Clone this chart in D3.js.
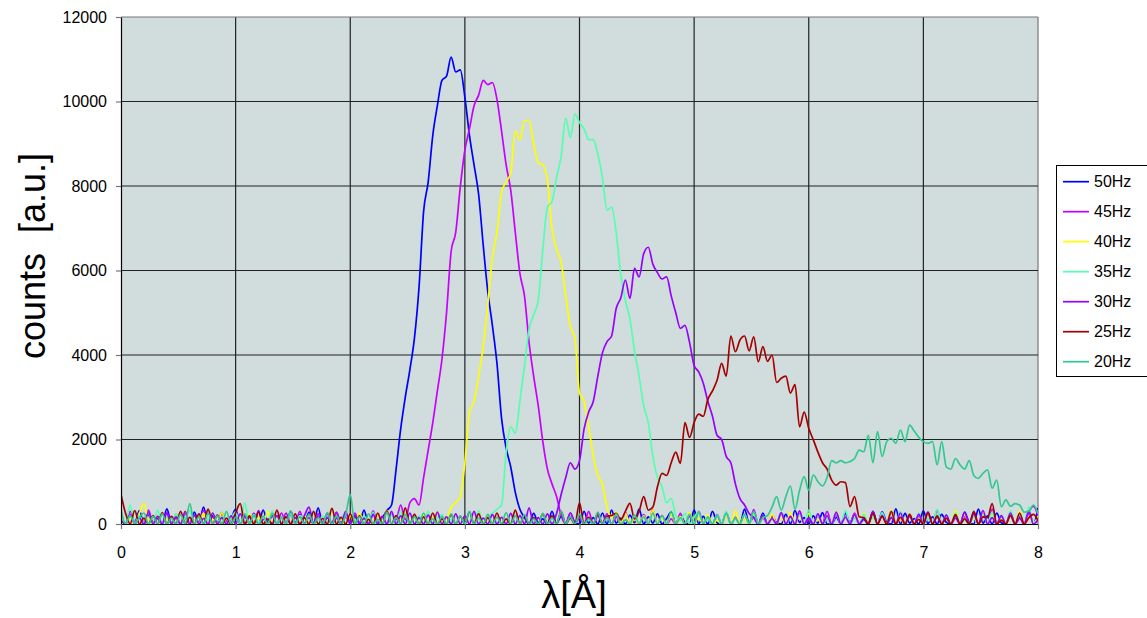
<!DOCTYPE html>
<html lang="en">
<head>
  <meta charset="UTF-8">
  <title>counts vs lambda</title>
  <script src="https://d3js.org/d3.v7.min.js"></script>
  <style>
    body {
      margin: 0;
      padding: 0;
      background: #fff;
    }
    text {
      font-family: "Liberation Sans", Arial, sans-serif;
    }
  </style>
</head>
<body>
  <div id="chart"></div>
<script>
  // one sample every 0.04 Å, from 0 to 8 (201 samples per series)
  const lambdaStep = 0.04
  const xTicks = [0, 1, 2, 3, 4, 5, 6, 7, 8]
  const yTicks = [0, 2000, 4000, 6000, 8000, 10000, 12000]
  const seriesNames = ['50Hz', '45Hz', '40Hz', '35Hz', '30Hz', '25Hz', '20Hz']
  const seriesColors = ['#0000ff', '#c800ff', '#ffff00', '#55ffb0', '#9900ff', '#a50000', '#33c890']

  const hz50 = [
    250,0,180,30,320,0,210,40,130,0,
    360,20,230,0,150,0,280,10,400,0,
    190,30,270,0,120,350,0,190,20,250,
    0,330,40,200,0,160,0,300,30,220,
    0,280,10,380,0,150,20,270,0,210,
    30,180,0,330,0,250,20,150,320,450,
    1300,2250,3000,3650,4400,5600,7400,8100,9200,9900,
    10500,10600,11050,10700,10750,10100,9200,8500,7800,6600,
    5500,4700,3800,2500,1800,1350,750,350,150,0,
    250,30,120,0,300,10,180,0,260,40,
    0,300,20,150,0,260,0,330,20,140,
    0,210,30,350,0,170,20,240,0,130,
    280,0,190,40,0,330,10,180,0,300,
    30,0,260,0,140,0,350,20,170,0,
    260,0,180,30,0,230,0,320,40,150,
    0,190,20,270,0,0,160,0,250,30,
    240,0,110,0,300,0,290,40,0,360,
    0,250,20,130,0,310,10,170,0,230,
    40,0,200,0,280,40,0,350,20,190,
    0,260,30,0,220,0,170,0,310,0,
    380]

  const hz45 = [
    120,0,300,40,190,0,330,10,160,0,
    270,20,140,0,250,0,180,30,320,0,
    160,0,210,60,0,280,0,170,30,240,
    0,110,0,190,0,260,20,220,0,300,
    10,150,0,240,30,160,0,280,20,170,
    0,260,40,150,0,310,20,180,0,230,
    100,450,100,500,600,450,1100,1750,2400,3150,
    3900,5000,6450,6900,7980,8850,9350,9900,10150,10500,
    10400,10450,10050,9300,8500,7900,6900,5930,5400,4300,
    3500,2800,1950,1300,950,650,200,0,260,0,
    150,0,300,0,190,20,240,0,170,0,
    280,0,130,0,220,10,330,0,200,0,
    120,0,250,0,180,0,300,30,140,0,
    220,0,270,20,160,0,230,0,340,0,
    140,0,210,30,260,0,170,0,240,0,
    110,0,190,20,300,0,220,0,180,0,
    260,0,150,40,280,0,200,10,310,0,
    120,0,230,0,170,0,250,0,320,30,
    140,0,220,0,180,0,270,0,200,0,
    350,20,150,0,240,0,190,0,280,420,
    200]

  const hz40 = [
    200,0,150,0,250,480,100,0,180,0,
    130,0,220,0,310,0,160,0,250,20,
    110,0,270,0,140,0,190,0,230,30,
    160,0,300,0,180,10,240,0,120,0,
    200,0,280,0,150,0,330,20,110,0,
    200,0,260,10,130,0,220,0,320,0,
    190,0,240,20,150,0,210,0,120,280,
    40,100,400,500,650,1450,2650,2900,3500,4200,
    5200,6300,6900,7850,8100,8300,9300,9100,9550,9550,
    9000,8550,8500,8150,7000,6500,6200,5400,4670,4400,
    3100,2900,2300,1620,1150,950,400,150,280,0,
    260,0,120,0,190,0,330,20,150,0,
    240,0,180,0,270,30,150,0,220,0,
    90,0,200,0,310,0,130,0,240,0,
    160,0,230,0,140,0,280,20,170,0,
    250,0,110,0,190,0,300,0,160,0,
    220,0,260,0,150,0,200,0,330,0,
    120,0,240,0,140,0,270,0,200,0,
    170,0,310,0,230,0,150,0,260,0,
    190,0,130,0,210,0,300,0,170,20,
    180]

  const hz35 = [
    300,0,450,0,200,20,260,0,330,0,
    170,0,240,0,150,310,0,200,0,110,
    260,0,180,0,140,280,0,500,0,220,
    40,190,0,310,0,160,0,240,0,200,
    130,0,270,0,180,0,350,0,150,230,
    0,110,0,190,0,280,0,140,0,220,
    0,300,0,250,0,190,0,300,0,150,
    220,0,110,0,180,0,260,0,320,0,
    150,250,350,450,1700,2300,2150,2900,3750,4600,
    4950,5300,6500,7500,7630,8200,8700,9600,9150,9700,
    9500,9350,9100,9100,8750,8200,7430,7500,6900,5900,
    5300,4850,4100,3500,2800,2400,1600,1100,880,500,
    600,200,80,250,0,160,290,0,120,0,
    210,0,300,0,140,0,230,0,260,0,
    190,0,110,0,280,0,130,0,220,0,
    330,0,200,0,120,0,250,0,310,0,
    140,0,230,0,160,0,270,0,190,0,
    300,0,180,0,250,0,140,0,350,0,
    220,0,260,0,100,0,170,0,210,0,
    280,0,190,0,310,0,230,0,400,0,
    150]

  const hz30 = [
    90,0,220,0,140,0,280,0,180,0,
    250,0,170,0,300,0,210,0,130,0,
    260,0,150,0,190,0,240,0,160,0,
    320,0,120,0,200,0,260,0,150,0,
    200,400,0,180,0,250,0,140,0,300,
    0,210,0,130,0,220,0,170,0,300,
    0,190,0,260,0,150,0,210,0,280,
    0,170,0,240,0,190,0,300,0,140,
    0,220,0,160,0,250,0,200,0,380,
    0,150,0,240,0,250,700,1100,1450,1300,
    1500,2250,2650,2900,3500,4050,4315,4450,5100,5350,
    5775,5340,6050,5850,6400,6550,6150,5950,5800,5850,
    5400,5000,4630,4700,4300,3750,3600,3330,2900,2550,
    2100,2000,1600,1450,950,600,450,250,150,0,
    200,0,130,0,270,0,180,0,310,0,
    150,0,240,0,190,0,280,0,160,0,
    220,0,130,0,300,0,200,0,150,0,
    260,0,180,0,230,0,290,0,160,0,
    210,0,140,0,270,0,240,0,320,0,
    150,0,200,0,260,0,130,0,310,0,
    100]

  const hz25 = [
    700,250,0,320,0,140,0,200,0,270,
    0,180,0,300,0,160,0,240,0,350,
    0,210,0,140,0,260,480,0,190,0,
    280,0,110,0,330,0,170,0,240,0,
    150,0,300,0,130,0,370,0,160,0,
    240,0,190,0,110,0,260,0,310,0,
    200,0,380,0,230,0,170,0,260,0,
    120,0,220,0,180,0,290,0,240,0,
    150,0,260,0,120,0,330,0,200,0,
    150,0,240,0,190,0,300,0,140,0,
    500,0,160,0,250,0,180,200,250,100,
    300,490,120,300,646,330,400,880,1200,1150,
    1450,1700,1436,2400,2050,2400,2600,2550,2950,3150,
    3400,3800,3500,4450,4080,4355,4450,4100,4430,3840,
    4200,3850,4000,3350,3450,3500,3100,3300,2300,2650,
    2265,1990,1700,1450,1300,1040,920,1000,980,410,
    650,170,150,0,250,0,180,0,300,0,
    160,0,230,0,110,0,270,0,190,0,
    140,0,220,0,120,0,300,0,170,150,
    480,0,90,0,200,0,260,0,150,230,
    80]

  const hz20 = [
    350,0,200,0,150,260,0,180,0,240,
    0,140,0,220,0,480,0,170,0,250,
    0,190,0,300,0,160,0,240,0,200,
    0,180,0,250,0,140,0,310,0,170,
    0,230,0,150,0,270,0,190,0,220,
    700,0,170,0,240,0,110,0,280,0,
    150,0,220,0,170,0,260,0,120,0,
    180,0,240,0,190,0,300,0,140,0,
    230,0,160,0,270,0,190,0,220,0,
    120,0,250,0,140,0,300,0,170,0,
    230,0,120,0,280,0,150,0,240,0,
    100,0,210,0,170,0,260,0,190,0,
    300,0,150,0,230,0,280,0,170,0,
    200,0,250,0,140,0,220,0,300,0,
    150,200,400,646,330,646,900,350,800,1120,
    800,1160,1000,900,1100,1500,1450,1500,1450,1480,
    1550,1750,1710,2100,1450,2185,1600,1950,2030,1910,
    2225,1950,2340,2200,2050,1950,1910,1950,1400,1950,
    1350,1300,1550,1400,1300,1500,1150,1080,1200,1280,
    850,1040,410,570,420,480,450,280,300,450,
    250]

  const seriesValues = [hz50, hz45, hz40, hz35, hz30, hz25, hz20]

  const width = 1147
  const height = 618
  const plot = { left: 121, right: 1038, top: 17, bottom: 524 }

  const x = d3.scaleLinear().domain([0, 8]).range([plot.left, plot.right])
  const y = d3.scaleLinear().domain([0, 12000]).range([plot.bottom, plot.top])

  const svg = d3.select('#chart')
    .append('svg')
    .attr('width', width)
    .attr('height', height)
    .attr('viewBox', `0 0 ${width} ${height}`)

  svg.append('defs').append('clipPath')
    .attr('id', 'plotClip')
    .append('rect')
    .attr('x', plot.left)
    .attr('y', plot.top)
    .attr('width', plot.right - plot.left)
    .attr('height', plot.bottom - plot.top)

  // plot background
  svg.append('rect')
    .attr('x', plot.left)
    .attr('y', plot.top)
    .attr('width', plot.right - plot.left)
    .attr('height', plot.bottom - plot.top)
    .attr('fill', '#d1dcdc')

  // grid
  const grid = svg.append('g').attr('class', 'grid')
  grid.selectAll('line.v')
    .data(xTicks.filter(d => d > 0))
    .join('line')
    .attr('class', 'v')
    .attr('x1', d => x(d)).attr('x2', d => x(d))
    .attr('y1', plot.top).attr('y2', plot.bottom)
    .attr('stroke', d => d === 8 ? '#777' : '#222')
    .attr('stroke-width', 1.2)
  grid.selectAll('line.h')
    .data(yTicks.filter(d => d > 0))
    .join('line')
    .attr('class', 'h')
    .attr('x1', plot.left).attr('x2', plot.right)
    .attr('y1', d => y(d)).attr('y2', d => y(d))
    .attr('stroke', d => d === 12000 ? '#777' : '#222')
    .attr('stroke-width', 1.2)

  // series
  const line = d3.line()
    .x((d, i) => x(i * lambdaStep))
    .y(d => y(d))
    .curve(d3.curveMonotoneX)

  svg.append('g')
    .attr('clip-path', 'url(#plotClip)')
    .selectAll('path')
    .data(seriesValues)
    .join('path')
    .attr('d', d => line(d))
    .attr('fill', 'none')
    .attr('stroke', (d, i) => seriesColors[i])
    .attr('stroke-width', 1.7)
    .attr('stroke-linejoin', 'round')

  // axes
  const yAxis = svg.append('g')
    .attr('transform', `translate(${plot.left},0)`)
    .call(d3.axisLeft(y).tickValues(yTicks).tickSize(5).tickSizeOuter(0).tickPadding(9).tickFormat(d3.format('d')))
  const xAxis = svg.append('g')
    .attr('transform', `translate(0,${plot.bottom})`)
    .call(d3.axisBottom(x).tickValues(xTicks).tickSize(5).tickSizeOuter(0).tickPadding(18).tickFormat(d3.format('d')))

  ;[yAxis, xAxis].forEach(a => {
    a.select('.domain').attr('stroke', '#000').attr('stroke-width', 1.2)
    a.selectAll('.tick line').attr('stroke', '#777').attr('stroke-width', 1.2)
    a.selectAll('.tick text')
      .attr('fill', '#000')
      .style('font-size', '16px')
      .style('font-family', '"Liberation Sans", Arial, sans-serif')
  })

  // axis titles
  svg.append('text')
    .attr('transform', 'translate(45,256) rotate(-90)')
    .attr('text-anchor', 'middle')
    .attr('xml:space', 'preserve')
    .style('white-space', 'pre')
    .style('font-size', '36px')
    .attr('fill', '#000')
    .text('counts  [a.u.]')

  svg.append('text')
    .attr('x', 574)
    .attr('y', 608)
    .attr('text-anchor', 'middle')
    .style('font-size', '38px')
    .attr('fill', '#000')
    .text('λ[Å]')

  // legend
  const legend = svg.append('g').attr('class', 'legend')
  legend.append('rect')
    .attr('x', 1056.5)
    .attr('y', 165.5)
    .attr('width', 100)
    .attr('height', 211)
    .attr('fill', '#fff')
    .attr('stroke', '#000')
    .attr('stroke-width', 1)

  const items = legend.selectAll('g.item')
    .data(seriesNames)
    .join('g')
    .attr('class', 'item')
    .attr('transform', (d, i) => `translate(0,${181.7 + i * 30})`)
  items.append('line')
    .attr('x1', 1063).attr('x2', 1089)
    .attr('y1', 0).attr('y2', 0)
    .attr('stroke', (d, i) => seriesColors[i])
    .attr('stroke-width', 1.7)
  items.append('text')
    .attr('x', 1094)
    .attr('y', 0)
    .attr('dy', '0.35em')
    .style('font-size', '16px')
    .attr('fill', '#000')
    .text(d => d)
</script>
</body>
</html>
